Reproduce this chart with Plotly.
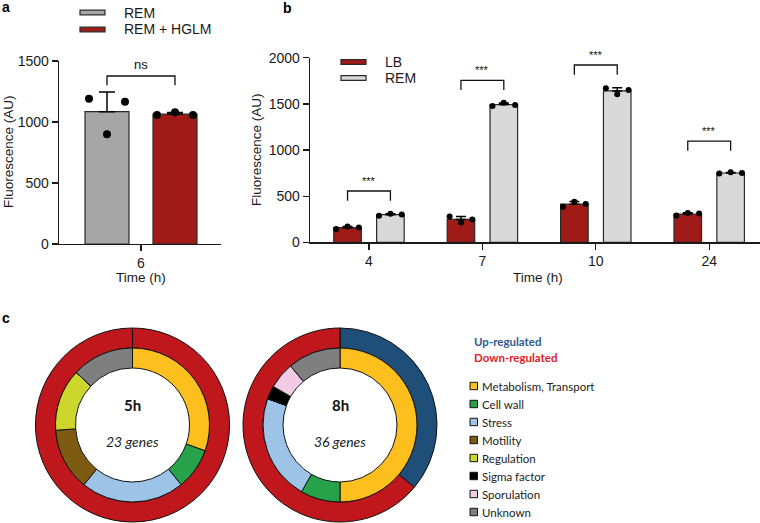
import numpy as np
import plotly.graph_objects as go

W, H = 760, 523

# ---------------- data ----------------
# panel a
a_times = ["6"]
a_series = ["REM", "REM + HGLM"]
a_rem = [[1190, 900, 1165]]          # replicates per time point
a_hglm = [[1057, 1079, 1057]]
a_sig_y = [1377]
a_sig_text = ["ns"]
a_yticks = [0, 500, 1000, 1500]

# panel b
b_times = ["4", "7", "10", "24"]
b_series = ["LB", "REM"]
b_lb = [[145, 170, 160], [280, 215, 248], [385, 440, 415], [290, 318, 312]]
b_rem = [[289, 308, 300], [1477, 1512, 1488], [1668, 1603, 1650], [745, 758, 750]]
b_sig_y = [556, 1755, 1921, 1097]
b_sig_text = ["***", "***", "***", "***"]
b_yticks = [0, 500, 1000, 1500, 2000]

# panel c
categories = ["Metabolism, Transport", "Cell wall", "Stress", "Motility",
              "Regulation", "Sigma factor", "Sporulation", "Unknown"]
genes_5h = [7, 2, 5, 3, 3, 0, 0, 3]
genes_8h = [18, 3, 8, 0, 0, 1, 2, 4]
reg_labels = ["Up-regulated", "Down-regulated"]
reg_5h = [0, 23]
reg_8h = [13, 23]
donut_titles = ["5h", "8h"]

# ---------------- styles ----------------
C_GRAY = "#A6A6A6"
C_RED = "#A01A18"
C_LGRAY = "#D9D9D9"
EDGE = "#2a2a2a"
cat_colors = ["#FDBF1E", "#27A24A", "#9DC3E6", "#7D5B12",
              "#CDD62A", "#000000", "#F2CAE3", "#7F7F7F"]
reg_colors = ["#1F4E79", "#C0171C"]
reg_text_colors = ["#2E5C8E", "#E3201F"]
AX_FONT = dict(family="Liberation Sans, Arial, sans-serif", size=14, color="#1a1a1a")
C_FONT = "Lato, Carlito, sans-serif"


def px(x):
    return x / W


def py(y):
    return 1 - y / H


fig = go.Figure()
ann = []
shapes = []


def A(**kw):
    kw.setdefault("xanchor", "center")
    kw.setdefault("yanchor", "middle")
    kw.setdefault("showarrow", False)
    ann.append(kw)


def add_bar_panel(xa, ya, times, series_data, colors, offs, bw, spread, dot_size, cap):
    n = len(times)
    idx = np.arange(n)
    for k, (data, col) in enumerate(zip(series_data, colors)):
        arr = np.array(data, dtype=float)
        mean = arr.mean(axis=1)
        sd = arr.std(axis=1, ddof=1)
        fig.add_trace(go.Bar(
            x=idx + offs[k], y=mean, width=bw, xaxis=xa, yaxis=ya,
            marker=dict(color=col, line=dict(color=EDGE, width=1.2)),
            error_y=dict(type="data", symmetric=False, array=sd,
                         arrayminus=np.zeros(n), color="#000", thickness=1.5, width=cap),
            showlegend=False, hoverinfo="skip"))
        reps = arr.shape[1]
        xs, ys = [], []
        for i in range(n):
            for j in range(reps):
                xs.append(i + offs[k] + spread * (j - (reps - 1) / 2))
                ys.append(arr[i, j])
        fig.add_trace(go.Scatter(
            x=xs, y=ys, mode="markers", xaxis=xa, yaxis=ya,
            marker=dict(color="#000", size=dot_size),
            showlegend=False, hoverinfo="skip", cliponaxis=False))


def add_brackets(xa, ya, ymax, sig_y, sig_text, offs, drop, tsize, tgap):
    for i, (yv, t) in enumerate(zip(sig_y, sig_text)):
        x0, x1 = i + offs[0], i + offs[1]
        fig.add_trace(go.Scatter(
            x=[x0, x0, x1, x1], y=[yv - drop, yv, yv, yv - drop], mode="lines",
            xaxis=xa, yaxis=ya, line=dict(color="#111", width=1.3),
            showlegend=False, hoverinfo="skip", cliponaxis=False))
        A(x=(x0 + x1) / 2, y=(yv + tgap) / ymax, xref=xa, yref=ya + " domain", text=t,
          font=dict(family=AX_FONT["family"], size=tsize, color="#111"))


# ---- panel a ----
a_offs = [-0.34, 0.34]
add_bar_panel("x", "y", a_times, [a_rem, a_hglm], [C_GRAY, C_RED], a_offs, 0.44, 0.18, 8, 8)
add_brackets("x", "y", a_yticks[-1], a_sig_y, a_sig_text, a_offs, 75, 13, 95)

# ---- panel b ----
b_offs = [-0.189, 0.189]
add_bar_panel("x2", "y2", b_times, [b_lb, b_rem], [C_RED, C_LGRAY], b_offs, 0.243, 0.1, 6, 5)
add_brackets("x2", "y2", b_yticks[-1], b_sig_y, b_sig_text, b_offs, 105, 11, 110)

axis_common = dict(showline=True, linecolor="#1a1a1a", linewidth=1.3, ticks="outside",
                   ticklen=6, tickwidth=1.3, tickcolor="#1a1a1a", showgrid=False,
                   zeroline=False, tickfont=AX_FONT, fixedrange=True, automargin=False)

fig.update_layout(
    xaxis=dict(domain=[px(59), px(221)], range=[-0.82, 0.80], anchor="y",
               tickvals=list(range(len(a_times))), ticktext=a_times, **axis_common),
    yaxis=dict(domain=[py(244), py(61)], range=[0, a_yticks[-1]], anchor="x",
               tickvals=a_yticks, **axis_common),
    xaxis2=dict(domain=[px(310), 1.0], range=[-0.52, 3.448], anchor="y2",
                tickvals=list(range(len(b_times))), ticktext=b_times, **axis_common),
    yaxis2=dict(domain=[py(242.3), py(57.7)], range=[0, b_yticks[-1]], anchor="x2",
                tickvals=b_yticks, **axis_common),
)

# axis titles
tf = dict(family=AX_FONT["family"], size=13.5, color="#1a1a1a")
A(x=px(8), y=py(152), xref="paper", yref="paper", text="Fluorescence (AU)", textangle=-90, font=tf)
A(x=px(256), y=py(150), xref="paper", yref="paper", text="Fluorescence (AU)", textangle=-90, font=tf)
A(x=px(141), y=py(277), xref="paper", yref="paper", text="Time (h)", font=tf)
A(x=px(538), y=py(277), xref="paper", yref="paper", text="Time (h)", font=tf)

# panel labels
for lab, (x, y) in zip(["a", "b", "c"], [(6, 7), (287, 8), (6, 318)]):
    A(x=px(x), y=py(y), xref="paper", yref="paper", text="<b>%s</b>" % lab,
      font=dict(family="Liberation Sans, Arial", size=14, color="#000"))


# bar legends (a and b)
def bar_legend(x0, ys, names, cols):
    for yy, nm, col in zip(ys, names, cols):
        shapes.append(dict(type="rect", xref="paper", yref="paper",
                           x0=px(x0), x1=px(x0 + 25), y0=py(yy + 2.3), y1=py(yy - 2.3),
                           fillcolor=col, line=dict(color=EDGE, width=1.2)))
        A(x=px(x0 + 42), y=py(yy), xref="paper", yref="paper", text=nm,
          xanchor="left", font=AX_FONT)


bar_legend(80, [12.5, 29.5], a_series, [C_GRAY, C_RED])
bar_legend(341, [62, 78], b_series, [C_RED, C_LGRAY])

# ---- panel c : donuts ----
R_OUT, R_MID, R_IN = 97, 77, 57
CY = 425
for cx, reg, genes, title in [(132.5, reg_5h, genes_5h, donut_titles[0]),
                              (340, reg_8h, genes_8h, donut_titles[1])]:
    fig.add_trace(go.Pie(
        labels=reg_labels, values=reg, sort=False, direction="clockwise", rotation=0,
        hole=R_MID / R_OUT, textinfo="none", hoverinfo="skip", showlegend=False,
        marker=dict(colors=reg_colors, line=dict(color="#111", width=1)),
        domain=dict(x=[px(cx - R_OUT), px(cx + R_OUT)], y=[py(CY + R_OUT), py(CY - R_OUT)])))
    fig.add_trace(go.Pie(
        labels=categories, values=genes, sort=False, direction="clockwise", rotation=0,
        hole=R_IN / R_MID, textinfo="none", hoverinfo="skip", showlegend=False,
        marker=dict(colors=cat_colors, line=dict(color="#111", width=1)),
        domain=dict(x=[px(cx - R_MID), px(cx + R_MID)], y=[py(CY + R_MID), py(CY - R_MID)])))
    # slice-start divider of the outer ring at 12 o'clock (drawn on top of the pies)
    A(x=px(cx), y=py(CY - R_MID), xref="paper", yref="paper", text="",
      showarrow=True, arrowhead=0, arrowwidth=1.1, arrowcolor="#111",
      ax=0, ay=-(R_OUT - R_MID), standoff=0, startstandoff=0)
    A(x=px(cx), y=py(CY - 20), xref="paper", yref="paper", text="<b>%s</b>" % title,
      font=dict(family=C_FONT, size=15, color="#111"))
    A(x=px(cx), y=py(CY + 16), xref="paper", yref="paper",
      text="<i>%d genes</i>" % sum(genes), font=dict(family=C_FONT, size=14, color="#222"))

# regulation legend
for i, (lab, col) in enumerate(zip(reg_labels, reg_text_colors)):
    A(x=px(472), y=py(341 + 16 * i), xref="paper", yref="paper",
      text="<b>%s</b>" % lab, xanchor="left", font=dict(family=C_FONT, size=11.5, color=col))
# category legend
for i, (lab, col) in enumerate(zip(categories, cat_colors)):
    yy = 386 + 18 * i
    shapes.append(dict(type="rect", xref="paper", yref="paper",
                       x0=px(470), x1=px(477.5), y0=py(yy + 3.7), y1=py(yy - 3.7),
                       fillcolor=col, line=dict(color="#111", width=1)))
    A(x=px(480), y=py(yy), xref="paper", yref="paper", text=lab, xanchor="left",
      font=dict(family=C_FONT, size=11.5, color="#222"))

fig.update_layout(
    width=W, height=H, margin=dict(l=0, r=0, t=0, b=0, pad=0),
    paper_bgcolor="white", plot_bgcolor="white",
    annotations=ann, shapes=shapes, bargap=0, showlegend=False,
)

fig.write_html("out.html", config={"displayModeBar": False, "staticPlot": True},
               post_script="document.body.style.margin='0';document.body.style.overflow='hidden';")
